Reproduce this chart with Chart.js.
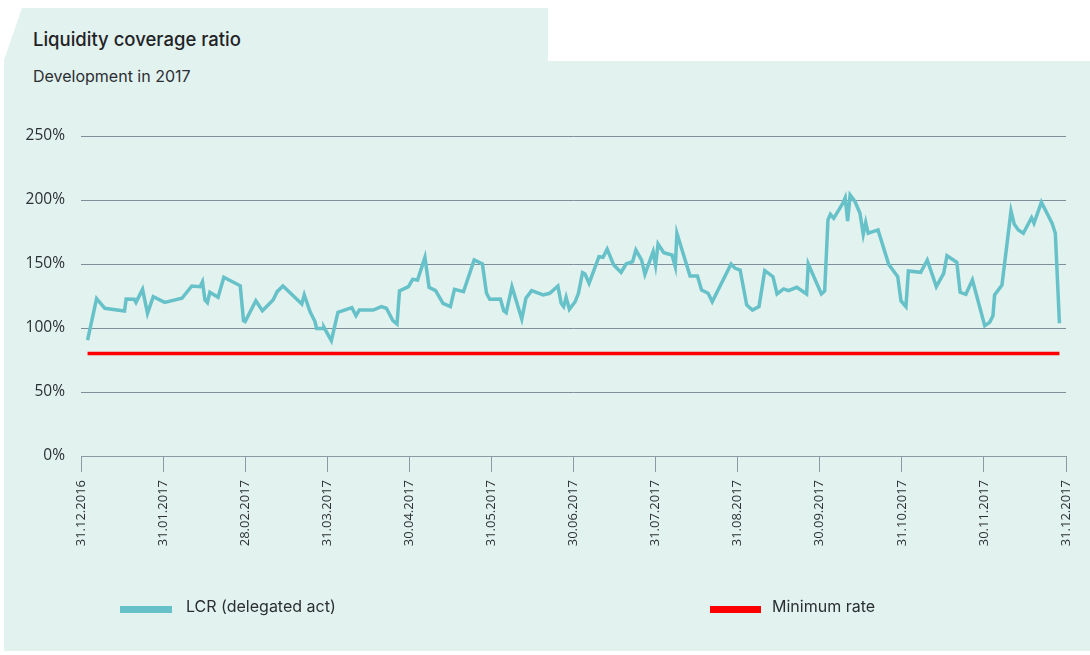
<!DOCTYPE html>
<html>
<head>
<meta charset="utf-8">
<script src="https://cdn.jsdelivr.net/npm/chart.js@4.4.1/dist/chart.umd.min.js"></script>
<style>
  body { margin: 0; background: #fff; font-family: "Open Sans", sans-serif; }
  #wrap { position: relative; width: 1090px; height: 655px; overflow: hidden; }
  #panel {
    position: absolute; left: 0; top: 0; width: 1090px; height: 655px;
    background: #e2f2ef;
    clip-path: polygon(22px 8px, 548px 8px, 548px 61px, 1090px 61px, 1090px 651px, 4px 651px, 4px 60px);
  }
  #title { position: absolute; left: 33px; top: 28px; font: 500 18.5px Inter, sans-serif; color: #1f2326; }
  #subtitle { position: absolute; left: 33px; top: 66px; font: 16px Inter, sans-serif; color: #2b2f33; }
  canvas { position: absolute; left: 0; top: 0; }
  .leg { position: absolute; top: 596px; font: 16px Inter, sans-serif; color: #2b2f33; }
  .sw { position: absolute; top: 606px; height: 7px; }
</style>
</head>
<body>
<div id="wrap">
  <div id="panel"></div>
  <div id="title">Liquidity coverage ratio</div>
  <div id="subtitle">Development in 2017</div>
  <canvas id="canvas" width="1090" height="655"></canvas>
  <div class="sw" style="left:120px;width:52px;background:#67c1c8"></div>
  <div class="leg" style="left:186px">LCR (delegated act)</div>
  <div class="sw" style="left:710px;width:51px;background:#ff0000"></div>
  <div class="leg" style="left:772px">Minimum rate</div>
</div>
<script>
//****DATA****//

// month-end tick labels (x = 0..12 months)
var tickLabels = ['31.12.2016', '31.01.2017', '28.02.2017', '31.03.2017', '30.04.2017', '31.05.2017',
  '30.06.2017', '31.07.2017', '31.08.2017', '30.09.2017', '31.10.2017', '30.11.2017', '31.12.2017'];

// position in months since 31.12.2016
var lcrMonth = [0.08, 0.19, 0.29, 0.53, 0.55, 0.65, 0.67, 0.75, 0.81, 0.88, 1.02, 1.23, 1.35, 1.45, 1.48,
  1.51, 1.54, 1.57, 1.67, 1.74, 1.94, 1.98, 2.00, 2.13, 2.21, 2.34, 2.39, 2.46, 2.69, 2.72, 2.79, 2.85,
  2.87, 2.95, 2.96, 3.05, 3.13, 3.30, 3.35, 3.39, 3.56, 3.66, 3.72, 3.80, 3.85, 3.88, 3.99, 4.04, 4.10,
  4.19, 4.24, 4.32, 4.41, 4.50, 4.55, 4.66, 4.79, 4.89, 4.94, 4.98, 5.11, 5.15, 5.18, 5.25, 5.37, 5.42,
  5.49, 5.63, 5.71, 5.81, 5.85, 5.88, 5.91, 5.95, 6.02, 6.06, 6.11, 6.14, 6.19, 6.31, 6.36, 6.41, 6.49,
  6.58, 6.64, 6.72, 6.76, 6.83, 6.87, 6.97, 7.00, 7.03, 7.10, 7.20, 7.24, 7.26, 7.42, 7.51, 7.56, 7.64,
  7.69, 7.92, 7.97, 8.03, 8.11, 8.18, 8.26, 8.33, 8.43, 8.48, 8.56, 8.62, 8.72, 8.84, 8.86, 9.02, 9.06,
  9.10, 9.13, 9.17, 9.28, 9.31, 9.34, 9.37, 9.43, 9.49, 9.53, 9.56, 9.59, 9.71, 9.84, 9.89, 9.95, 9.99,
  10.05, 10.08, 10.23, 10.31, 10.42, 10.51, 10.55, 10.67, 10.71, 10.78, 10.86, 11.01, 11.07, 11.11,
  11.13, 11.22, 11.33, 11.37, 11.42, 11.48, 11.58, 11.61, 11.70, 11.83, 11.87, 11.92];

// LCR in percent
var lcrValue = [90.6, 123, 115.4, 113.3, 122.6, 122.4, 120, 130.2, 111.5, 124.5, 120, 123.2, 132.8, 132.3, 136.2,
  121.9, 119.8, 127.9, 124, 139.6, 133, 105.7, 105, 121.3, 113.5, 121.9, 128.4, 132.8, 118.8, 125.8, 112.8, 105,
  99.7, 99.7, 100.5, 90.1, 112.2, 115.9, 109.6, 114, 114, 116.7, 115.4, 105.7, 103.1, 128.9, 132.3, 138, 137.5,
  155.2, 131.8, 129.2, 119.3, 116.7, 130.2, 128.4, 153.1, 150, 127.1, 122.4, 122.7, 113.5, 112, 132.3, 107, 123.2,
  129.2, 125.8, 127.1, 132.8, 119.3, 116.7, 124, 114.6, 120.5, 127.1, 143.2, 142.2, 134.9, 155.7, 155.2, 161.5, 149.2,
  143.5, 150, 151.8, 160.9, 153.1, 141.9, 159.6, 149.2, 165.6, 158.8, 157, 147.9, 174, 140.6, 140.6, 129.7, 127.1,
  120.5, 150, 146.6, 145.3, 118, 114, 116.7, 144.8, 140.1, 126.6, 130.5, 129.2, 131.8, 126.6, 150, 126.6, 128.9,
  184.4, 188.8, 185.7, 197.4, 201.8, 183.6, 203.9, 198.7, 189.6, 173.2, 182.5, 174, 176.6, 149.7, 145.3, 140.1, 121.1,
  116.7, 144.5, 143.5, 153.1, 132.3, 142.7, 156.5, 151.3, 127.9, 126.3, 137.5, 101.8, 104.4, 109.6,
  125.8, 133.6, 191.4, 181, 176.6, 174, 186.2, 181.8, 198.2, 181.8, 174, 103.7];

var minimumRate = 80;

//****CHART****//

var lcrPoints = [];
for (var i = 0; i < lcrMonth.length; i++) {
  lcrPoints.push({ x: lcrMonth[i], y: lcrValue[i] });
}
var minPoints = [
  { x: lcrMonth[0], y: minimumRate },
  { x: lcrMonth[lcrMonth.length - 1], y: minimumRate }
];

var ctx = document.getElementById('canvas').getContext('2d');
var chart = new Chart(ctx, {
  type: 'line',
  data: {
    datasets: [
      {
        label: 'Minimum rate',
        data: minPoints,
        borderColor: '#ff0000',
        borderWidth: 3.5,
        pointRadius: 0
      },
      {
        label: 'LCR (delegated act)',
        data: lcrPoints,
        borderColor: '#67c1c8',
        borderWidth: 3.5,
        pointRadius: 0,
        tension: 0
      }
    ]
  },
  options: {
    responsive: false,
    animation: false,
    layout: { padding: { left: 0, right: 24, top: 136, bottom: 99 } },
    plugins: { legend: { display: false }, tooltip: { enabled: false } },
    scales: {
      x: {
        type: 'linear',
        min: 0,
        max: 12,
        afterFit: function (scale) { scale.height = 100; },
        grid: { drawOnChartArea: false, drawTicks: true, tickLength: 16, color: '#8a9ba6' },
        border: { display: true, color: '#8a9ba6' },
        ticks: {
          stepSize: 1,
          autoSkip: false,
          minRotation: 90,
          maxRotation: 90,
          padding: 8,
          color: '#2b2f33',
          font: { family: 'Open Sans', size: 13 },
          callback: function (v) { return tickLabels[v]; }
        }
      },
      y: {
        min: 0,
        max: 250,
        afterFit: function (scale) { scale.width = 81; },
        grid: { color: '#7d8f9a', drawTicks: false },
        border: { display: false },
        ticks: {
          stepSize: 50,
          padding: 16,
          color: '#2b2f33',
          font: { family: 'Open Sans', size: 15.5 },
          callback: function (v) { return v + '%'; }
        }
      }
    }
  }
});
</script>
</body>
</html>
